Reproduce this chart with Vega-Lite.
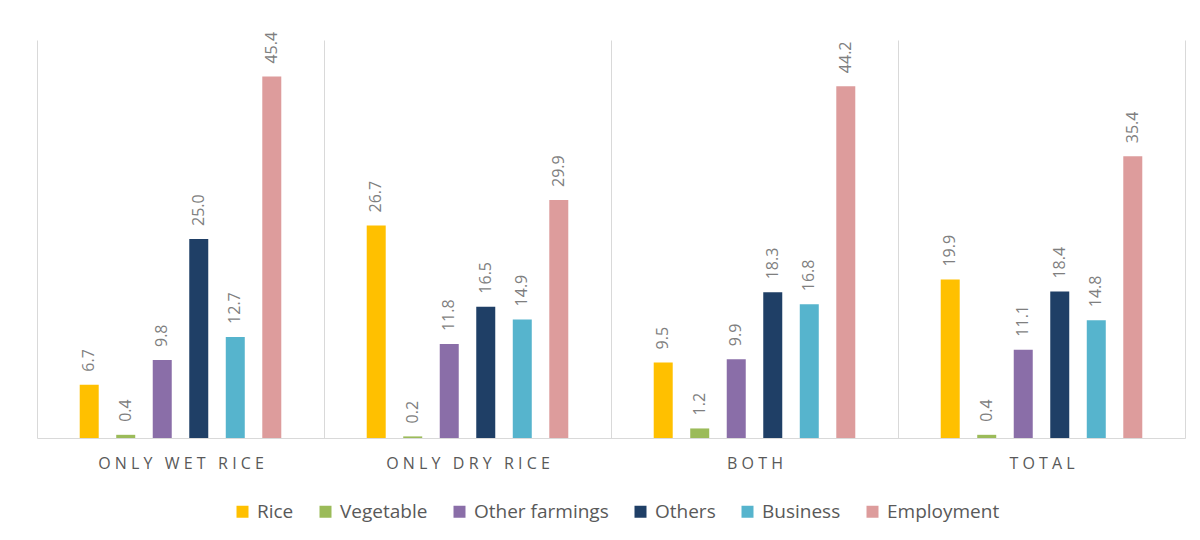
{
  "$schema": "https://vega.github.io/schema/vega-lite/v6.json",
  "width": 1148,
  "height": 398,
  "autosize": {"type": "none"},
  "padding": {"left": 37, "top": 40, "right": 15, "bottom": 102},
  "background": "white",
  "config": {"view": {"stroke": null}, "font": "Open Sans"},
  "data": {"values": [
    {"group": "ONLY WET RICE", "series": "Rice", "value": 6.7},
    {"group": "ONLY WET RICE", "series": "Vegetable", "value": 0.4},
    {"group": "ONLY WET RICE", "series": "Other farmings", "value": 9.8},
    {"group": "ONLY WET RICE", "series": "Others", "value": 25.0},
    {"group": "ONLY WET RICE", "series": "Business", "value": 12.7},
    {"group": "ONLY WET RICE", "series": "Employment", "value": 45.4},
    {"group": "ONLY DRY RICE", "series": "Rice", "value": 26.7},
    {"group": "ONLY DRY RICE", "series": "Vegetable", "value": 0.2},
    {"group": "ONLY DRY RICE", "series": "Other farmings", "value": 11.8},
    {"group": "ONLY DRY RICE", "series": "Others", "value": 16.5},
    {"group": "ONLY DRY RICE", "series": "Business", "value": 14.9},
    {"group": "ONLY DRY RICE", "series": "Employment", "value": 29.9},
    {"group": "BOTH", "series": "Rice", "value": 9.5},
    {"group": "BOTH", "series": "Vegetable", "value": 1.2},
    {"group": "BOTH", "series": "Other farmings", "value": 9.9},
    {"group": "BOTH", "series": "Others", "value": 18.3},
    {"group": "BOTH", "series": "Business", "value": 16.8},
    {"group": "BOTH", "series": "Employment", "value": 44.2},
    {"group": "TOTAL", "series": "Rice", "value": 19.9},
    {"group": "TOTAL", "series": "Vegetable", "value": 0.4},
    {"group": "TOTAL", "series": "Other farmings", "value": 11.1},
    {"group": "TOTAL", "series": "Others", "value": 18.4},
    {"group": "TOTAL", "series": "Business", "value": 14.8},
    {"group": "TOTAL", "series": "Employment", "value": 35.4}
  ]},
  "encoding": {
    "x": {
      "field": "group", "type": "nominal", "sort": null,
      "scale": {"paddingInner": 0, "paddingOuter": 0},
      "axis": {
        "title": null, "labelAngle": 0, "ticks": false, "grid": true,
        "tickBand": "extent", "gridColor": "#d9d9d9", "domainColor": "#d9d9d9",
        "labelColor": "#595959", "labelFontSize": 16, "labelPadding": 17,
        "labelExpr": "join(split(datum.label, ''), '\u00a0')"
      }
    },
    "xOffset": {
      "field": "series", "type": "nominal",
      "sort": ["Rice", "Vegetable", "Other farmings", "Others", "Business", "Employment"],
      "scale": {"paddingInner": 0.14, "paddingOuter": 1}
    },
    "y": {
      "field": "value", "type": "quantitative",
      "scale": {"domain": [0, 50]},
      "axis": null
    }
  },
  "layer": [
    {
      "mark": {"type": "bar", "width": 19},
      "encoding": {
        "color": {
          "field": "series", "type": "nominal",
          "sort": ["Rice", "Vegetable", "Other farmings", "Others", "Business", "Employment"],
          "scale": {
            "domain": ["Rice", "Vegetable", "Other farmings", "Others", "Business", "Employment"],
            "range": ["#ffc000", "#9bbb59", "#8a6ea8", "#1f3f66", "#56b4cd", "#dd9c9c"]
          },
          "legend": {
            "title": null, "orient": "none", "legendX": 196, "legendY": 462,
            "direction": "horizontal",
            "symbolType": "square", "symbolSize": 144, "symbolStrokeWidth": 0,
            "labelFontSize": 19, "labelColor": "#595959", "columnPadding": 22,
            "labelOffset": 5
          }
        }
      }
    },
    {
      "mark": {"type": "text", "angle": 270, "align": "left", "baseline": "middle", "dx": 13, "fontSize": 16, "color": "#7f7f7f"},
      "encoding": {
        "text": {"field": "value", "type": "quantitative", "format": ".1f"}
      }
    }
  ]
}
